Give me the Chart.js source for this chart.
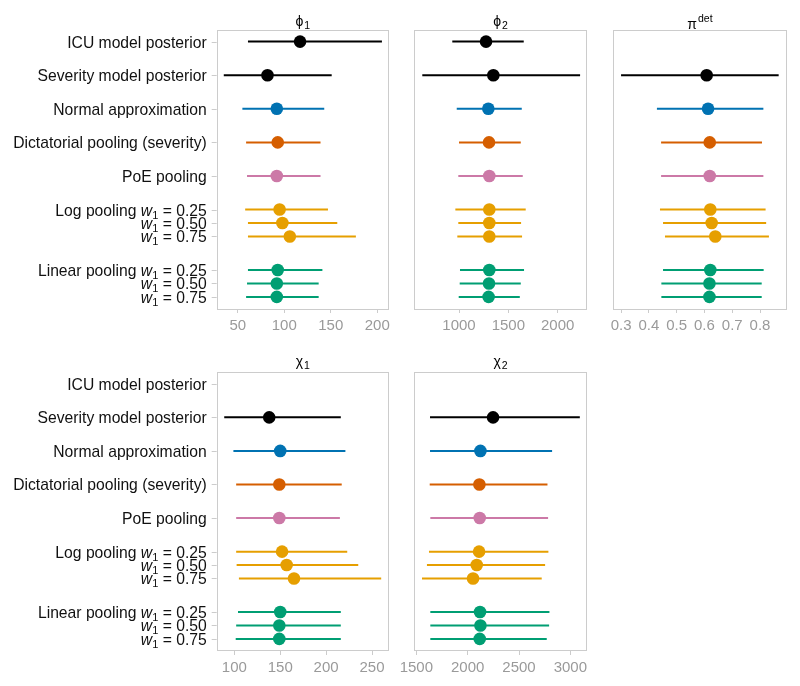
<!DOCTYPE html>
<html>
<head>
<meta charset="utf-8">
<script src="https://cdn.jsdelivr.net/npm/chart.js@4.4.1/dist/chart.umd.min.js"></script>
<style>
  html, body { margin: 0; padding: 0; background: #fff; }
  #wrap { position: relative; width: 800px; height: 686px; }
  #wrap canvas { position: absolute; }
</style>
</head>
<body>
<div id="wrap">
  <canvas id="phi1" width="400" height="340" style="left:0;top:0"></canvas>
  <canvas id="phi2" width="200" height="340" style="left:400px;top:0"></canvas>
  <canvas id="pidet" width="200" height="340" style="left:600px;top:0"></canvas>
  <canvas id="chi1" width="400" height="346" style="left:0;top:340px"></canvas>
  <canvas id="chi2" width="200" height="346" style="left:400px;top:340px"></canvas>
</div>
<script>
const FONT = '"Liberation Sans", Arial, "DejaVu Sans", sans-serif';

// rows, top to bottom (w_1 is drawn as italic w with subscript 1)
const methods = [
  'ICU model posterior',
  'Severity model posterior',
  'Normal approximation',
  'Dictatorial pooling (severity)',
  'PoE pooling',
  'Log pooling w_1 = 0.25',
  'w_1 = 0.50',
  'w_1 = 0.75',
  'Linear pooling w_1 = 0.25',
  'w_1 = 0.50',
  'w_1 = 0.75',
];
const rowPos = [0, 1, 2, 3, 4, 5, 5.4, 5.8, 6.8, 7.2, 7.6];
const methodColors = [
  '#000000', '#000000', '#0072B2', '#D55E00', '#CC79A7',
  '#E69F00', '#E69F00', '#E69F00', '#009E73', '#009E73', '#009E73',
];

// phi_1
const phi1Lo = [61, 35, 55, 59, 60, 58, 61, 61, 61, 60, 59];
const phi1Mid = [117, 82, 92, 93, 92, 95, 98, 106, 93, 92, 92];
const phi1Hi = [205, 151, 143, 139, 139, 147, 157, 177, 141, 137, 137];
const phi1Ticks = [50, 100, 150, 200];

// phi_2
const phi2Lo = [932, 628, 977, 1000, 993, 963, 993, 983, 1010, 1007, 997];
const phi2Mid = [1274, 1348, 1297, 1304, 1307, 1307, 1307, 1307, 1307, 1304, 1300];
const phi2Hi = [1656, 2227, 1636, 1626, 1646, 1676, 1629, 1639, 1659, 1626, 1616];
const phi2Ticks = [1000, 1500, 2000];

// pi^det
const piLo = [null, 0.300, 0.429, 0.444, 0.444, 0.440, 0.451, 0.458, 0.451, 0.445, 0.445];
const piMid = [null, 0.608, 0.613, 0.619, 0.619, 0.621, 0.626, 0.639, 0.621, 0.618, 0.618];
const piHi = [null, 0.867, 0.812, 0.807, 0.812, 0.820, 0.822, 0.832, 0.813, 0.806, 0.806];
const piTicks = [0.3, 0.4, 0.5, 0.6, 0.7, 0.8];

// chi_1
const chi1Lo = [null, 89, 99, 102, 102, 102, 102.5, 105, 104, 102, 101.5];
const chi1Mid = [null, 138, 150, 149, 149, 152, 157, 165, 150, 149, 149];
const chi1Hi = [null, 216, 221, 217, 215, 223, 235, 260, 216, 216, 216];
const chi1Ticks = [100, 150, 200, 250];

// chi_2
const chi2Lo = [null, 1633, 1633, 1630, 1636, 1623, 1603, 1555, 1636, 1636, 1636];
const chi2Mid = [null, 2247, 2124, 2114, 2117, 2111, 2088, 2052, 2120, 2124, 2117];
const chi2Hi = [null, 3092, 2822, 2777, 2783, 2786, 2754, 2721, 2796, 2793, 2770];
const chi2Ticks = [1500, 2000, 2500, 3000];

function drawRowLabel(ctx, text, xRight, y, size) {
  const runs = [];
  text.split(/(w_1)/).filter(Boolean).forEach((p) => {
    if (p === 'w_1') {
      runs.push({ t: 'w', font: `italic ${size}px ${FONT}`, dy: 0 });
      runs.push({ t: '1', font: `${Math.round(size * 0.68)}px ${FONT}`, dy: size * 0.2 });
    } else {
      runs.push({ t: p, font: `${size}px ${FONT}`, dy: 0 });
    }
  });
  let total = 0;
  runs.forEach((r) => {
    ctx.font = r.font;
    r.w = ctx.measureText(r.t).width;
    total += r.w;
  });
  let x = xRight - total;
  const base = y + size * 0.36;
  ctx.textAlign = 'left';
  ctx.textBaseline = 'alphabetic';
  runs.forEach((r) => {
    ctx.font = r.font;
    ctx.fillText(r.t, x, base + r.dy);
    x += r.w;
  });
}

// title: base glyph plus sub- or superscript, bounding box centred on cy
function drawTitle(ctx, title, cx, cy) {
  const big = `14px ${FONT}`;
  const small = `10.5px ${FONT}`;
  const extra = title.sub || title.sup;
  const shift = title.sub ? 3 : -7;
  ctx.font = big;
  const m1 = ctx.measureText(title.base);
  ctx.font = small;
  const m2 = ctx.measureText(extra);
  const asc = Math.max(m1.actualBoundingBoxAscent, m2.actualBoundingBoxAscent - shift);
  const desc = Math.max(m1.actualBoundingBoxDescent, m2.actualBoundingBoxDescent + shift);
  const baseline = cy + (asc - desc) / 2;
  let x = cx - (m1.width + m2.width + 1) / 2;
  ctx.textAlign = 'left';
  ctx.textBaseline = 'alphabetic';
  ctx.fillStyle = '#000';
  ctx.font = big;
  ctx.fillText(title.base, x, baseline);
  x += m1.width + 1;
  ctx.font = small;
  ctx.fillText(extra, x, baseline + shift);
}

const panelDecor = {
  id: 'panelDecor',
  beforeDatasetsDraw(chart) {
    const { ctx, chartArea: a } = chart;
    ctx.save();
    ctx.strokeStyle = '#cccccc';
    ctx.lineWidth = 1;
    ctx.strokeRect(Math.round(a.left) + 0.5, Math.round(a.top) + 0.5,
      Math.round(a.right - a.left) - 1, Math.round(a.bottom - a.top) - 1);
    ctx.restore();
  },
  afterDraw(chart, args, opts) {
    const { ctx, chartArea: a } = chart;
    const yScale = chart.scales.y;
    ctx.save();
    drawTitle(ctx, opts.title, (a.left + a.right) / 2, a.top - 8);
    if (opts.labels) {
      methods.forEach((m, i) => {
        const y = Math.round(yScale.getPixelForValue(rowPos[i])) + 0.5;
        ctx.strokeStyle = '#cccccc';
        ctx.lineWidth = 1;
        ctx.beginPath();
        ctx.moveTo(a.left - 5, y);
        ctx.lineTo(a.left, y);
        ctx.stroke();
        ctx.fillStyle = '#111';
        drawRowLabel(ctx, m, a.left - 10, y, 15.7);
      });
    }
    ctx.restore();
  },
};

function buildDatasets(lo, mid, hi) {
  const sets = [];
  methods.forEach((m, i) => {
    if (lo[i] == null) return;
    sets.push({
      data: [{ x: lo[i], y: rowPos[i] }, { x: hi[i], y: rowPos[i] }],
      showLine: true,
      borderColor: methodColors[i],
      borderWidth: 2,
      pointRadius: 0,
      pointHoverRadius: 0,
    });
  });
  const pts = [];
  const cols = [];
  methods.forEach((m, i) => {
    if (mid[i] == null) return;
    pts.push({ x: mid[i], y: rowPos[i] });
    cols.push(methodColors[i]);
  });
  sets.push({
    data: pts,
    pointRadius: 6.3,
    pointBackgroundColor: cols,
    pointBorderWidth: 0,
    borderWidth: 0,
  });
  return sets;
}

function makePanel(id, cfg) {
  new Chart(document.getElementById(id), {
    type: 'scatter',
    data: { datasets: buildDatasets(cfg.lo, cfg.mid, cfg.hi) },
    plugins: [panelDecor],
    options: {
      responsive: false,
      animation: false,
      events: [],
      layout: { padding: cfg.padding },
      plugins: {
        legend: { display: false },
        tooltip: { enabled: false },
        panelDecor: { title: cfg.title, labels: cfg.labels },
      },
      scales: {
        y: { type: 'linear', display: false, reverse: true, min: -0.36, max: 7.96 },
        x: {
          type: 'linear',
          min: cfg.range[0],
          max: cfg.range[1],
          afterBuildTicks(scale) {
            scale.ticks = cfg.ticks.map((v) => ({ value: v }));
          },
          afterFit(scale) {
            scale.height = cfg.axisHeight;
            scale.paddingLeft = 0;
            scale.paddingRight = 0;
          },
          border: { display: false },
          grid: {
            drawOnChartArea: false,
            drawTicks: true,
            tickLength: 4,
            tickColor: '#cccccc',
            color: '#cccccc',
          },
          ticks: {
            autoSkip: false,
            maxRotation: 0,
            padding: 4,
            color: '#9a9a9a',
            font: { family: FONT, size: 15 },
            callback: (v) => String(v),
          },
        },
      },
    },
  });
}

makePanel('phi1', {
  lo: phi1Lo, mid: phi1Mid, hi: phi1Hi, ticks: phi1Ticks, range: [27.4, 212.6],
  title: { base: 'ϕ', sub: '1' }, labels: true,
  padding: { left: 216.7, right: 11, top: 29.5, bottom: 0 }, axisHeight: 31,
});
makePanel('phi2', {
  lo: phi2Lo, mid: phi2Mid, hi: phi2Hi, ticks: phi2Ticks, range: [544, 2297],
  title: { base: 'ϕ', sub: '2' }, labels: false,
  padding: { left: 14, right: 13, top: 29.5, bottom: 0 }, axisHeight: 31,
});
makePanel('pidet', {
  lo: piLo, mid: piMid, hi: piHi, ticks: piTicks, range: [0.271, 0.897],
  title: { base: 'π', sup: 'det' }, labels: false,
  padding: { left: 13, right: 13, top: 29.5, bottom: 0 }, axisHeight: 31,
});
makePanel('chi1', {
  lo: chi1Lo, mid: chi1Mid, hi: chi1Hi, ticks: chi1Ticks, range: [80.8, 268.5],
  title: { base: 'χ', sub: '1' }, labels: true,
  padding: { left: 216.7, right: 11, top: 31.7, bottom: 0 }, axisHeight: 35,
});
makePanel('chi2', {
  lo: chi2Lo, mid: chi2Mid, hi: chi2Hi, ticks: chi2Ticks, range: [1477, 3162],
  title: { base: 'χ', sub: '2' }, labels: false,
  padding: { left: 14, right: 13, top: 31.7, bottom: 0 }, axisHeight: 35,
});
</script>
</body>
</html>
